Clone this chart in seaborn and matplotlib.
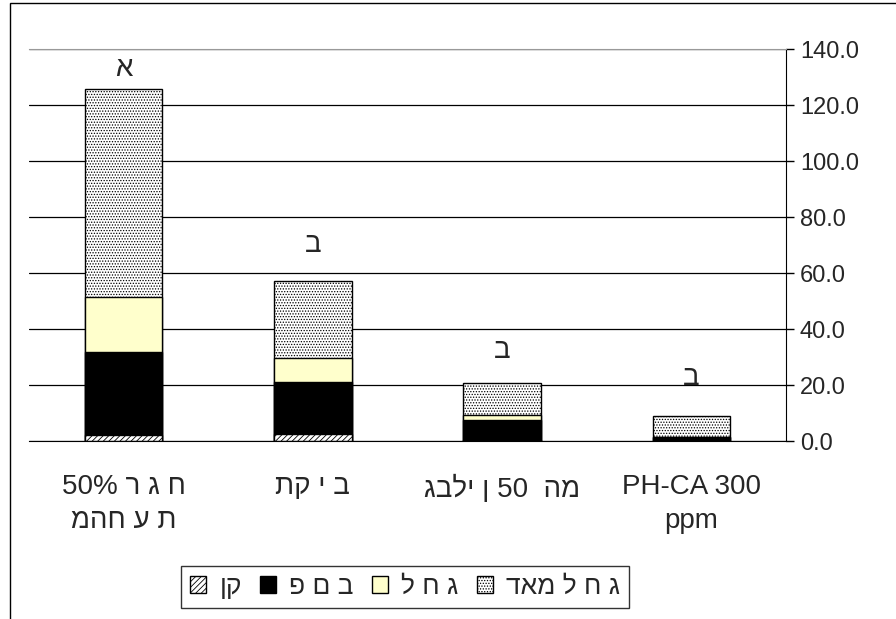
import numpy as np
import pandas as pd
import matplotlib
matplotlib.use("Agg")
import matplotlib.pyplot as plt
import seaborn as sns
from matplotlib.patches import Patch, Rectangle

# Hebrew strings are kept in the left-to-right glyph order seen in the reference
# (matplotlib lays text out left to right, with no bidi reordering)
categories = ["50% ר ג ח\nמהח ע ת", "תק י ב", "גבלי ן 50  המ", "PH-CA 300\nppm"]
small = [2.1, 2.4, 0.3, 0.0]
medium = [29.8, 18.8, 7.3, 1.5]
large = [19.6, 8.3, 1.8, 0.0]
very_large = [74.1, 27.8, 11.3, 7.4]
series_names = ["ןק", "פ ם ב", "ל ח ג", "דאמ ל ח ג"]
sig_letters = ["א", "ב", "ב", "ב"]
sig_y = [133.0, 70.0, 32.0, 22.5]
y_ticks = [0, 20, 40, 60, 80, 100, 120, 140]

sns.set_style("white")
plt.rcParams["font.family"] = ["Liberation Sans", "DejaVu Sans"]
plt.rcParams["hatch.linewidth"] = 0.6
FS_TICK = 17
FS = 20

df = pd.DataFrame({"cat": categories, "small": small, "medium": medium,
                   "large": large, "very_large": very_large})
df["c1"] = df["small"]
df["c2"] = df["c1"] + df["medium"]
df["c3"] = df["c2"] + df["large"]
df["c4"] = df["c3"] + df["very_large"]

fig = plt.figure(figsize=(8.96, 6.19), dpi=100)
ax = fig.add_axes([29 / 896, 1 - 441 / 619, (786 - 29) / 896, (441 - 49) / 619])

# cumulative bars drawn from the top layer down
layers = [("c4", "white", "......"), ("c3", "#FFFFCC", None),
          ("c2", "black", None), ("c1", "white", "//////")]
for col, face, hatch in layers:
    sns.barplot(data=df, x="cat", y=col, order=categories, color=face,
                width=0.41, edgecolor="black", linewidth=1.0, hatch=hatch,
                saturation=1, ax=ax)

ax.set_xlim(-0.5, 3.5)
ax.set_ylim(0, 140)
ax.set_yticks(y_ticks)
ax.set_yticklabels([f"{v:.1f}" for v in y_ticks], fontsize=FS_TICK)
ax.yaxis.tick_right()
ax.tick_params(axis="y", direction="out", length=6, width=1, color="black", pad=4)
ax.set_xlabel("")
ax.set_ylabel("")
ax.set_xticks(range(len(categories)))
ax.set_xticklabels(categories, fontsize=FS, linespacing=1.4)
ax.tick_params(axis="x", which="major", length=0, pad=24)
ax.set_xticks([0.5, 1.5, 2.5], minor=True)
ax.tick_params(axis="x", which="minor", direction="out", length=8, width=1, color="black")

ax.grid(axis="y", color="black", linewidth=0.9)
ax.set_axisbelow(True)
ax.spines["left"].set_visible(False)
ax.spines["top"].set_color("#999999")
ax.spines["right"].set_color("black")
ax.spines["bottom"].set_color("black")

for i, (letter, yv) in enumerate(zip(sig_letters, sig_y)):
    ax.text(i, yv, letter, ha="center", va="center", fontsize=FS)

handles = [Patch(facecolor="white", edgecolor="black", hatch="//////", label=series_names[0]),
           Patch(facecolor="black", edgecolor="black", label=series_names[1]),
           Patch(facecolor="#FFFFCC", edgecolor="black", label=series_names[2]),
           Patch(facecolor="white", edgecolor="black", hatch="......", label=series_names[3])]
leg = fig.legend(handles=handles, loc="center", bbox_to_anchor=(405 / 896, 1 - 587 / 619),
                 ncol=4, fontsize=19, frameon=True, fancybox=False, edgecolor="black",
                 handlelength=0.6, handleheight=0.6, handletextpad=0.5, columnspacing=0.7,
                 borderpad=0.35)
leg.get_frame().set_linewidth(1.0)

# outer chart frame
fig.patches.append(Rectangle((10 / 896, -0.05), 1.2, 1.05 - 3 / 619, transform=fig.transFigure,
                             fill=False, edgecolor="black", linewidth=1.0))

fig.savefig("out.png", dpi=100)
